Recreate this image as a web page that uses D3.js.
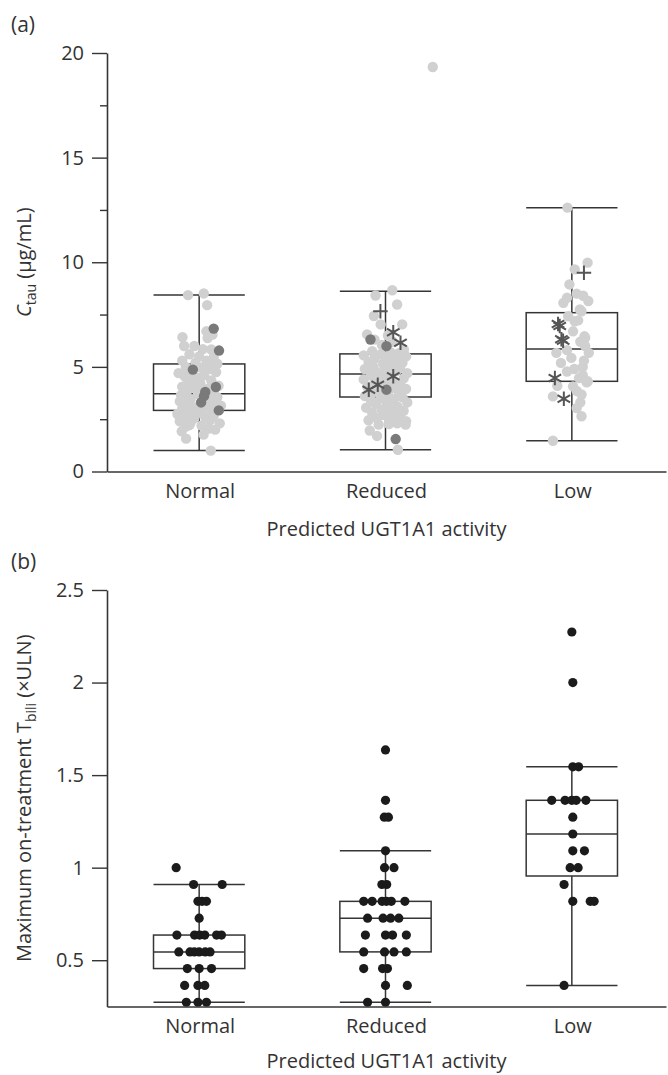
<!DOCTYPE html>
<html>
<head>
<meta charset="utf-8">
<script src="https://cdn.jsdelivr.net/npm/d3@7"></script>
<style>
body { margin: 0; background: #fff; }
text { font-family: "Open Sans", sans-serif; fill: #333; }
</style>
</head>
<body>
<div id="chart"></div>
<script>
var groups = ["Normal", "Reduced", "Low"];

// (a) Ctau, box stats per group: [min, q1, median, q3, max]
var ctauBox = [[1.0, 2.92, 3.72, 5.14, 8.43],
               [1.04, 3.56, 4.66, 5.62, 8.62],
               [1.47, 4.31, 5.86, 7.59, 12.61]];
var ctauTicks = [0, 5, 10, 15, 20];
var ctauMinor = [2.5, 7.5, 12.5, 17.5];

// points are [value, jitter], jitter from -1 (left) to 1 (right)
var ctauNormal = [[8.43,-0.46],[8.51,0.19],[7.95,0.33],[6.7,0.3],[6.54,0.55],[6.38,0.35],[6.42,-0.69],[6.0,-0.62],[6.0,-0.2],[5.85,0.15],[5.83,0.5],
    [5.6,-0.4],[5.5,0.0],[5.45,0.6],[5.3,-0.7],[5.3,0.3],[5.2,-0.15],[5.15,0.75],[5.1,0.4],
    [5.0,-0.55],[4.95,0.1],[4.9,0.45],[4.8,-0.3],[4.75,0.7],[4.7,-0.85],[4.6,0.2],[4.55,-0.6],[4.5,-0.1],
    [4.4,-0.25],[4.35,0.5],[4.3,-0.45],[4.2,0.05],[4.1,0.8],[4.05,-0.7],[4.0,-0.2],[3.95,0.35],[3.9,0.1],
    [3.85,-0.5],[3.8,0.6],[3.75,0.4],[3.7,-0.05],[3.65,-0.75],[3.6,0.25],[3.55,0.75],[3.5,-0.55],
    [3.45,-0.35],[3.4,0.45],[3.35,-0.8],[3.35,0.3],[3.3,0.1],[3.25,0.65],[3.2,-0.5],[3.15,0.9],
    [3.1,0.3],[3.05,-0.15],[3.0,-0.7],[2.95,0.8],[2.9,0.5],[2.85,-0.35],
    [2.8,0.05],[2.75,-0.9],[2.7,-0.6],[2.65,0.6],[2.6,0.25],[2.55,-0.2],[2.5,-0.6],
    [2.45,0.45],[2.4,-0.8],[2.35,-0.35],[2.3,0.85],[2.22,-0.4],[2.2,0.1],[2.15,-0.55],
    [2.05,0.4],[2.0,0.66],[1.92,-0.72],[1.76,0.18],[1.57,-0.54],[1.0,0.48]];
var ctauReduced = [[8.41,-0.41],[8.66,0.28],[7.98,0.48],[7.43,-0.48],[7.03,-0.2],[7.03,0.69],[6.55,-0.76],[6.5,0.1],[6.3,-0.45],[6.2,0.3],[6.05,-0.15],[5.83,0.76],
    [5.75,-0.55],[5.7,0.2],[5.65,0.55],[5.6,-0.2],[5.55,-0.9],[5.5,0.85],[5.45,0.05],[5.4,-0.45],
    [5.3,0.4],[5.25,-0.7],[5.2,0.7],[5.15,-0.1],[5.05,0.25],[5.0,-0.5],[4.95,0.6],
    [4.9,-0.85],[4.85,0.0],[4.8,0.45],[4.75,-0.35],[4.7,0.9],[4.6,-0.6],[4.55,0.15],
    [4.5,-0.15],[4.45,0.75],[4.4,-0.9],[4.3,0.35],[4.25,-0.45],[4.2,0.6],[4.1,0.0],
    [4.05,-0.75],[4.0,0.3],[3.95,0.85],[3.9,-0.25],[3.8,0.55],[3.75,-0.55],[3.7,0.1],
    [3.6,-0.85],[3.55,0.7],[3.5,-0.2],[3.45,0.35],[3.4,-0.6],[3.3,0.9],[3.25,0.05],
    [3.2,-0.4],[3.1,0.5],[3.05,-0.8],[3.0,0.2],[2.95,-0.15],[2.9,0.75],[2.8,-0.55],
    [2.75,0.35],[2.7,-0.05],[2.6,0.6],[2.55,-0.35],[2.5,0.15],[2.45,-0.7],[2.4,0.85],
    [2.3,0.48],[2.27,0.14],[2.24,-0.28],[2.24,0.83],[1.96,-0.65],[1.7,-0.35],[1.04,0.51],[19.33,1.95]];
var ctauLow = [[12.61,-0.18],[9.98,0.65],[9.66,0.12],[8.94,-0.1],[8.5,0.2],[8.4,0.47],[8.3,-0.2],[8.15,0.68],[8.06,-0.35],
    [7.74,0.33],[7.66,0.4],[7.42,-0.15],[7.22,0.26],[7.18,0.12],[6.7,0.05],[6.46,0.52],[6.39,0.55],[6.2,0.35],[6.0,0.55],
    [5.8,-0.2],[5.67,0.7],[5.67,-0.64],[5.43,-0.02],[5.3,0.5],[5.19,-0.45],[5.0,0.45],[4.9,0.1],[4.78,-0.2],[4.6,0.45],
    [4.46,0.3],[4.31,0.66],[4.26,0.61],[4.1,-0.6],[4.07,0.05],[3.85,0.2],[3.68,0.4],[3.59,-0.78],[3.3,0.35],
    [3.03,0.2],[2.64,0.4],[1.47,-0.78]];
// darker circles
var ctauNormalDark = [[6.83,0.6],[5.78,0.82],[4.87,-0.26],[4.04,0.69],[3.8,0.25],[3.6,0.2],[3.3,0.08],[2.92,0.81]];
var ctauReducedDark = [[6.31,-0.62],[5.99,0.04],[3.91,0.04],[1.55,0.42]];
var ctauLowDark = [];
// asterisk and plus markers
var ctauReducedStar = [[6.66,0.32],[6.15,0.62],[4.55,0.32],[4.15,-0.32],[3.91,-0.69]];
var ctauLowStar = [[7.05,-0.57],[6.95,-0.5],[6.32,-0.43],[6.25,-0.36],[4.47,-0.7],[3.48,-0.33]];
var ctauReducedPlus = [[7.66,-0.21]];
var ctauLowPlus = [[9.5,0.5]];

// (b) max on-treatment Tbili (xULN)
var biliBox = [[0.273, 0.455, 0.545, 0.636, 0.909],
               [0.273, 0.545, 0.727, 0.818, 1.091],
               [0.364, 0.955, 1.182, 1.364, 1.545]];
var biliTicks = [0.5, 1, 1.5, 2, 2.5];
var biliNormal = [[1.0,-0.95],[0.909,-0.23],[0.909,0.95],[0.818,-0.05],[0.818,0.12],[0.818,0.3],[0.727,0],
    [0.636,-0.92],[0.636,-0.19],[0.636,0.02],[0.636,0.23],[0.636,0.72],[0.636,0.92],
    [0.545,-0.84],[0.545,-0.38],[0.545,-0.2],[0.545,0.0],[0.545,0.25],[0.545,0.45],
    [0.455,-0.49],[0.455,0],[0.455,0.51],[0.364,-0.6],[0.364,-0.05],[0.364,0.23],
    [0.273,-0.53],[0.273,-0.05],[0.273,0.3]];
var biliReduced = [[1.636,0],[1.364,0],[1.273,-0.05],[1.273,0.12],[1.091,0],[1.0,-0.04],[1.0,0.35],[0.909,-0.15],[0.909,0.05],
    [0.818,-0.9],[0.818,-0.55],[0.818,-0.14],[0.818,0.04],[0.818,0.24],[0.818,0.8],
    [0.727,-0.74],[0.727,-0.1],[0.727,0.21],[0.727,0.55],[0.636,-0.83],[0.636,0],[0.636,0.29],[0.636,0.86],
    [0.545,-0.9],[0.545,-0.04],[0.545,0.35],[0.545,0.86],[0.455,-0.9],[0.455,-0.12],[0.455,0.08],
    [0.364,0],[0.364,0.9],[0.273,-0.74],[0.273,0]];
var biliLow = [[2.273,0],[2.0,0.04],[1.545,0.04],[1.545,0.28],[1.364,-0.83],[1.364,-0.28],[1.364,0],[1.364,0.18],[1.364,0.58],
    [1.273,0.04],[1.182,0.04],[1.091,0.04],[1.091,0.52],[1.0,-0.07],[1.0,0.26],[0.909,-0.32],
    [0.818,0.04],[0.818,0.76],[0.818,0.92],[0.364,-0.32]];

var svg_w = 668, svg_h = 1075;
var ink = "#353535";

var svg = d3.select("#chart")
    .append("svg")
    .attr("width", svg_w)
    .attr("height", svg_h);

var x = d3.scaleBand()
    .domain(groups)
    .range([107, 666]);
var jit = d3.scaleLinear()
    .domain([-1, 1])
    .range([-x.bandwidth() * 0.13, x.bandwidth() * 0.13]);
var boxW = x.bandwidth() * 0.49;
var cx = function (g) { return x(g) + x.bandwidth() / 2 - 1; };

var yA = d3.scaleLinear().domain([0, 20]).range([471.5, 53]);
var yB = d3.scaleLinear().domain([0.25, 2.5]).range([1006.5, 590]);

var asteriskType = {
    draw: function (ctx, size) {
        var r = Math.sqrt(size) / 2, a = r * Math.sqrt(3) / 2, b = r / 2;
        ctx.moveTo(0, -r); ctx.lineTo(0, r);
        ctx.moveTo(-a, -b); ctx.lineTo(a, b);
        ctx.moveTo(-a, b); ctx.lineTo(a, -b);
    }
};
var plusType = {
    draw: function (ctx, size) {
        var r = Math.sqrt(size) / 2;
        ctx.moveTo(0, -r); ctx.lineTo(0, r);
        ctx.moveTo(-r, 0); ctx.lineTo(r, 0);
    }
};

function draw_axes(y, ticks, minor, fmt, base, titleGap) {
    var yAxis = svg.append("g")
        .attr("transform", "translate(107,0)")
        .call(d3.axisLeft(y).tickValues(ticks).tickFormat(fmt)
            .tickSize(15).tickPadding(8).tickSizeOuter(0));
    yAxis.selectAll("text").style("font-size", "20px");
    if (minor) {
        svg.append("g")
            .attr("transform", "translate(107,0)")
            .call(d3.axisLeft(y).tickValues(minor).tickFormat("").tickSize(7).tickSizeOuter(0))
            .select(".domain").remove();
    }
    var xAxis = svg.append("g")
        .attr("transform", "translate(0," + base + ")")
        .call(d3.axisBottom(x).tickSize(0).tickPadding(12).tickSizeOuter(0));
    xAxis.selectAll("text").style("font-size", "20px");

    svg.selectAll(".domain").attr("stroke", ink).attr("stroke-width", 1.6);
    svg.selectAll(".tick line").attr("stroke", ink).attr("stroke-width", 1.4);
    svg.selectAll(".tick text").attr("fill", "#333");

    svg.append("text")
        .attr("x", (x.range()[0] + x.range()[1]) / 2)
        .attr("y", base + titleGap)
        .attr("text-anchor", "middle")
        .style("font-size", "20px")
        .text("Predicted UGT1A1 activity");
}

function draw_boxes(y, stats) {
    var g = svg.append("g")
        .attr("fill", "none")
        .attr("stroke", ink)
        .attr("stroke-width", 1.5);
    groups.forEach(function (grp, i) {
        var s = stats[i], c = cx(grp);
        g.append("rect")
            .attr("x", c - boxW / 2).attr("width", boxW)
            .attr("y", y(s[3])).attr("height", y(s[1]) - y(s[3]));
        [s[0], s[2], s[4]].forEach(function (v) {
            g.append("line")
                .attr("x1", c - boxW / 2).attr("x2", c + boxW / 2)
                .attr("y1", y(v)).attr("y2", y(v));
        });
        g.append("line").attr("x1", c).attr("x2", c).attr("y1", y(s[4])).attr("y2", y(s[3]));
        g.append("line").attr("x1", c).attr("x2", c).attr("y1", y(s[1])).attr("y2", y(s[0]));
    });
}

function draw_dots(y, grp, pts, r, colour) {
    svg.append("g")
        .selectAll("circle")
        .data(pts)
        .enter()
        .append("circle")
        .attr("cx", function (d) { return cx(grp) + jit(d[1]); })
        .attr("cy", function (d) { return y(d[0]); })
        .attr("r", r)
        .style("fill", colour);
}

function draw_marks(y, grp, pts, type) {
    svg.append("g")
        .selectAll("path")
        .data(pts)
        .enter()
        .append("path")
        .attr("transform", function (d) {
            return "translate(" + (cx(grp) + jit(d[1])) + "," + y(d[0]) + ")";
        })
        .attr("d", d3.symbol().type(type).size(210))
        .style("fill", "none")
        .style("stroke", "#555")
        .style("stroke-width", 2);
}

// panel (a)
draw_boxes(yA, ctauBox);
draw_dots(yA, "Normal", ctauNormal, 5.2, "#d0d0d0");
draw_dots(yA, "Reduced", ctauReduced, 5.2, "#d0d0d0");
draw_dots(yA, "Low", ctauLow, 5.2, "#d0d0d0");
draw_dots(yA, "Normal", ctauNormalDark, 5.2, "#7a7a7a");
draw_dots(yA, "Reduced", ctauReducedDark, 5.2, "#7a7a7a");
draw_dots(yA, "Low", ctauLowDark, 5.2, "#7a7a7a");
draw_marks(yA, "Reduced", ctauReducedStar, asteriskType);
draw_marks(yA, "Low", ctauLowStar, asteriskType);
draw_marks(yA, "Reduced", ctauReducedPlus, plusType);
draw_marks(yA, "Low", ctauLowPlus, plusType);
draw_axes(yA, ctauTicks, ctauMinor, d3.format("d"), 471.5, 64);

// panel (b)
draw_boxes(yB, biliBox);
draw_dots(yB, "Normal", biliNormal, 4.6, "#1b1b1b");
draw_dots(yB, "Reduced", biliReduced, 4.6, "#1b1b1b");
draw_dots(yB, "Low", biliLow, 4.6, "#1b1b1b");
draw_axes(yB, biliTicks, null, function (d) { return String(d); }, 1006.5, 61);

// panel letters
svg.append("text").attr("x", 11).attr("y", 32).style("font-size", "21px").text("(a)");
svg.append("text").attr("x", 11).attr("y", 569).style("font-size", "21px").text("(b)");

// y titles
var ta = svg.append("text")
    .attr("transform", "translate(31," + ((yA.range()[0] + yA.range()[1]) / 2) + ") rotate(-90)")
    .attr("text-anchor", "middle")
    .style("font-size", "20px");
ta.append("tspan").style("font-style", "italic").text("C");
ta.append("tspan").attr("dy", 5).style("font-size", "14px").text("tau");
ta.append("tspan").attr("dy", -5).text(" (\u03bcg/mL)");

var tb = svg.append("text")
    .attr("transform", "translate(31," + ((yB.range()[0] + yB.range()[1]) / 2) + ") rotate(-90)")
    .attr("text-anchor", "middle")
    .style("font-size", "20px");
tb.append("tspan").text("Maximum on-treatment T");
tb.append("tspan").attr("dy", 5).style("font-size", "14px").text("bili");
tb.append("tspan").attr("dy", -5).text(" (\u00d7ULN)");
</script>
</body>
</html>
